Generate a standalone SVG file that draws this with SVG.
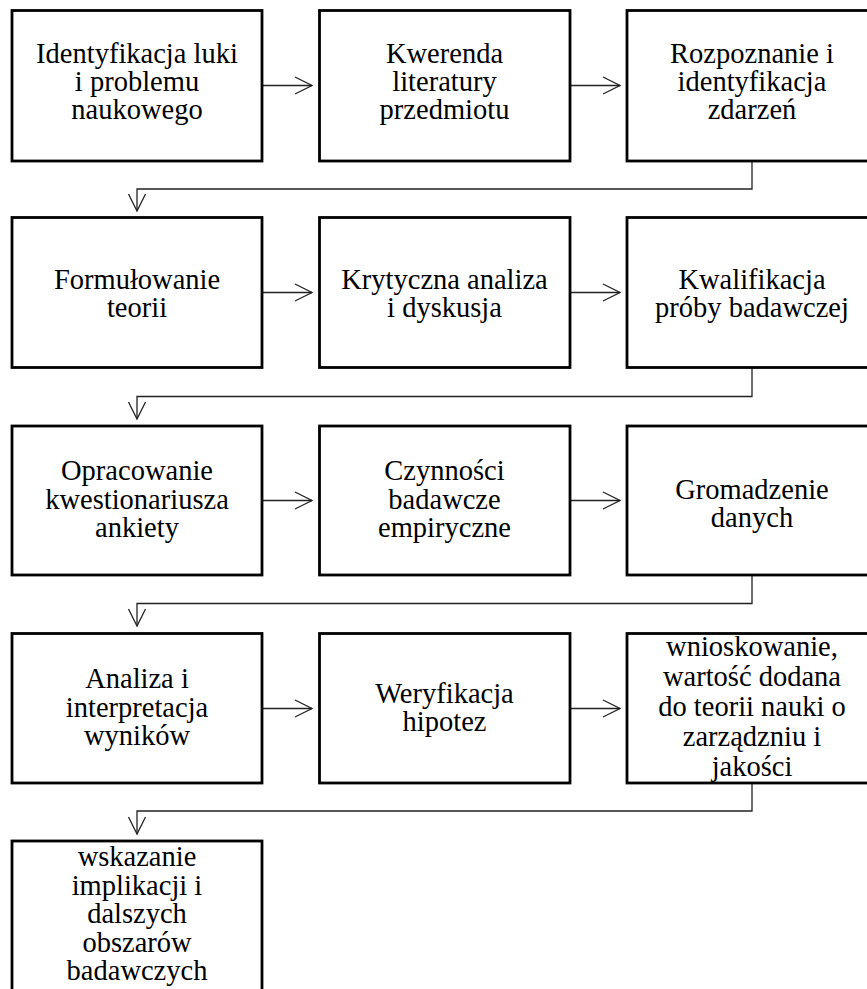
<svg xmlns="http://www.w3.org/2000/svg" width="867" height="989" viewBox="0 0 867 989">
<defs>
<style>
.box{fill:#fff;stroke:#000;stroke-width:2.8}
.t{font-family:'Liberation Serif','Times New Roman',serif;font-size:28.5px;fill:#000;text-anchor:middle}
.c{fill:none;stroke:#222;stroke-width:1.3}
</style>
<marker id="ah" viewBox="0 0 20 20" refX="18" refY="10" markerWidth="20" markerHeight="20" markerUnits="userSpaceOnUse" orient="auto">
<path d="M1,1.5 L18,10 L1,18.5" fill="none" stroke="#222" stroke-width="1.3"/>
</marker>
</defs>
<rect width="867" height="989" fill="#fff"/>
<g id="connectors">
<path class="c" d="M262,85.5 H312" marker-end="url(#ah)"/>
<path class="c" d="M570,85.5 H620" marker-end="url(#ah)"/>
<path class="c" d="M752,161 V189 H137 V211" marker-end="url(#ah)"/>
<path class="c" d="M262,292.5 H312" marker-end="url(#ah)"/>
<path class="c" d="M570,292.5 H620" marker-end="url(#ah)"/>
<path class="c" d="M752,367 V396.5 H137 V419" marker-end="url(#ah)"/>
<path class="c" d="M262,500.5 H312" marker-end="url(#ah)"/>
<path class="c" d="M570,500.5 H620" marker-end="url(#ah)"/>
<path class="c" d="M752,575 V603.5 H137 V626" marker-end="url(#ah)"/>
<path class="c" d="M262,708.5 H312" marker-end="url(#ah)"/>
<path class="c" d="M570,708.5 H620" marker-end="url(#ah)"/>
<path class="c" d="M752,783 V811 H137 V834" marker-end="url(#ah)"/>
</g>
<g id="n1"><rect class="box" x="12" y="10.5" width="250" height="150.5"/>
<text class="t" x="137" y="63">Identyfikacja luki</text><text class="t" x="137" y="91">i problemu</text><text class="t" x="137" y="119">naukowego</text></g>
<g id="n2"><rect class="box" x="319.5" y="10.5" width="250.5" height="150.5"/>
<text class="t" x="444.5" y="63">Kwerenda</text><text class="t" x="444.5" y="91">literatury</text><text class="t" x="444.5" y="119">przedmiotu</text></g>
<g id="n3"><rect class="box" x="627" y="10.5" width="250" height="150.5"/>
<text class="t" x="752" y="63">Rozpoznanie i</text><text class="t" x="752" y="91">identyfikacja</text><text class="t" x="752" y="119">zdarzeń</text></g>
<g id="n4"><rect class="box" x="12" y="217.5" width="250" height="150"/>
<text class="t" x="137" y="289">Formułowanie</text><text class="t" x="137" y="317">teorii</text></g>
<g id="n5"><rect class="box" x="319.5" y="217.5" width="250.5" height="150"/>
<text class="t" x="444.5" y="289">Krytyczna analiza</text><text class="t" x="444.5" y="317">i dyskusja</text></g>
<g id="n6"><rect class="box" x="627" y="217.5" width="250" height="150"/>
<text class="t" x="752" y="289">Kwalifikacja</text><text class="t" x="752" y="317">próby badawczej</text></g>
<g id="n7"><rect class="box" x="12" y="426" width="250" height="149"/>
<text class="t" x="137" y="480">Opracowanie</text><text class="t" x="137" y="508.5">kwestionariusza</text><text class="t" x="137" y="537">ankiety</text></g>
<g id="n8"><rect class="box" x="319.5" y="426" width="250.5" height="149"/>
<text class="t" x="444.5" y="480">Czynności</text><text class="t" x="444.5" y="508.5">badawcze</text><text class="t" x="444.5" y="537">empiryczne</text></g>
<g id="n9"><rect class="box" x="627" y="426" width="250" height="149"/>
<text class="t" x="752" y="499">Gromadzenie</text><text class="t" x="752" y="527">danych</text></g>
<g id="n10"><rect class="box" x="12" y="633.5" width="250" height="149.5"/>
<text class="t" x="137" y="688">Analiza i</text><text class="t" x="137" y="716.5">interpretacja</text><text class="t" x="137" y="745">wyników</text></g>
<g id="n11"><rect class="box" x="319.5" y="633.5" width="250.5" height="149.5"/>
<text class="t" x="444.5" y="703">Weryfikacja</text><text class="t" x="444.5" y="731">hipotez</text></g>
<g id="n12"><rect class="box" x="627" y="633.5" width="250" height="149.5"/>
<text class="t" x="752" y="656">wnioskowanie,</text><text class="t" x="752" y="686">wartość dodana</text><text class="t" x="752" y="716">do teorii nauki o</text><text class="t" x="752" y="746">zarządzniu i</text><text class="t" x="752" y="776">jakości</text></g>
<g id="n13"><rect class="box" x="12" y="841" width="250" height="160"/>
<text class="t" x="137" y="866">wskazanie</text><text class="t" x="137" y="894.5">implikacji i</text><text class="t" x="137" y="923">dalszych</text><text class="t" x="137" y="951.5">obszarów</text><text class="t" x="137" y="980">badawczych</text></g>
</svg>
